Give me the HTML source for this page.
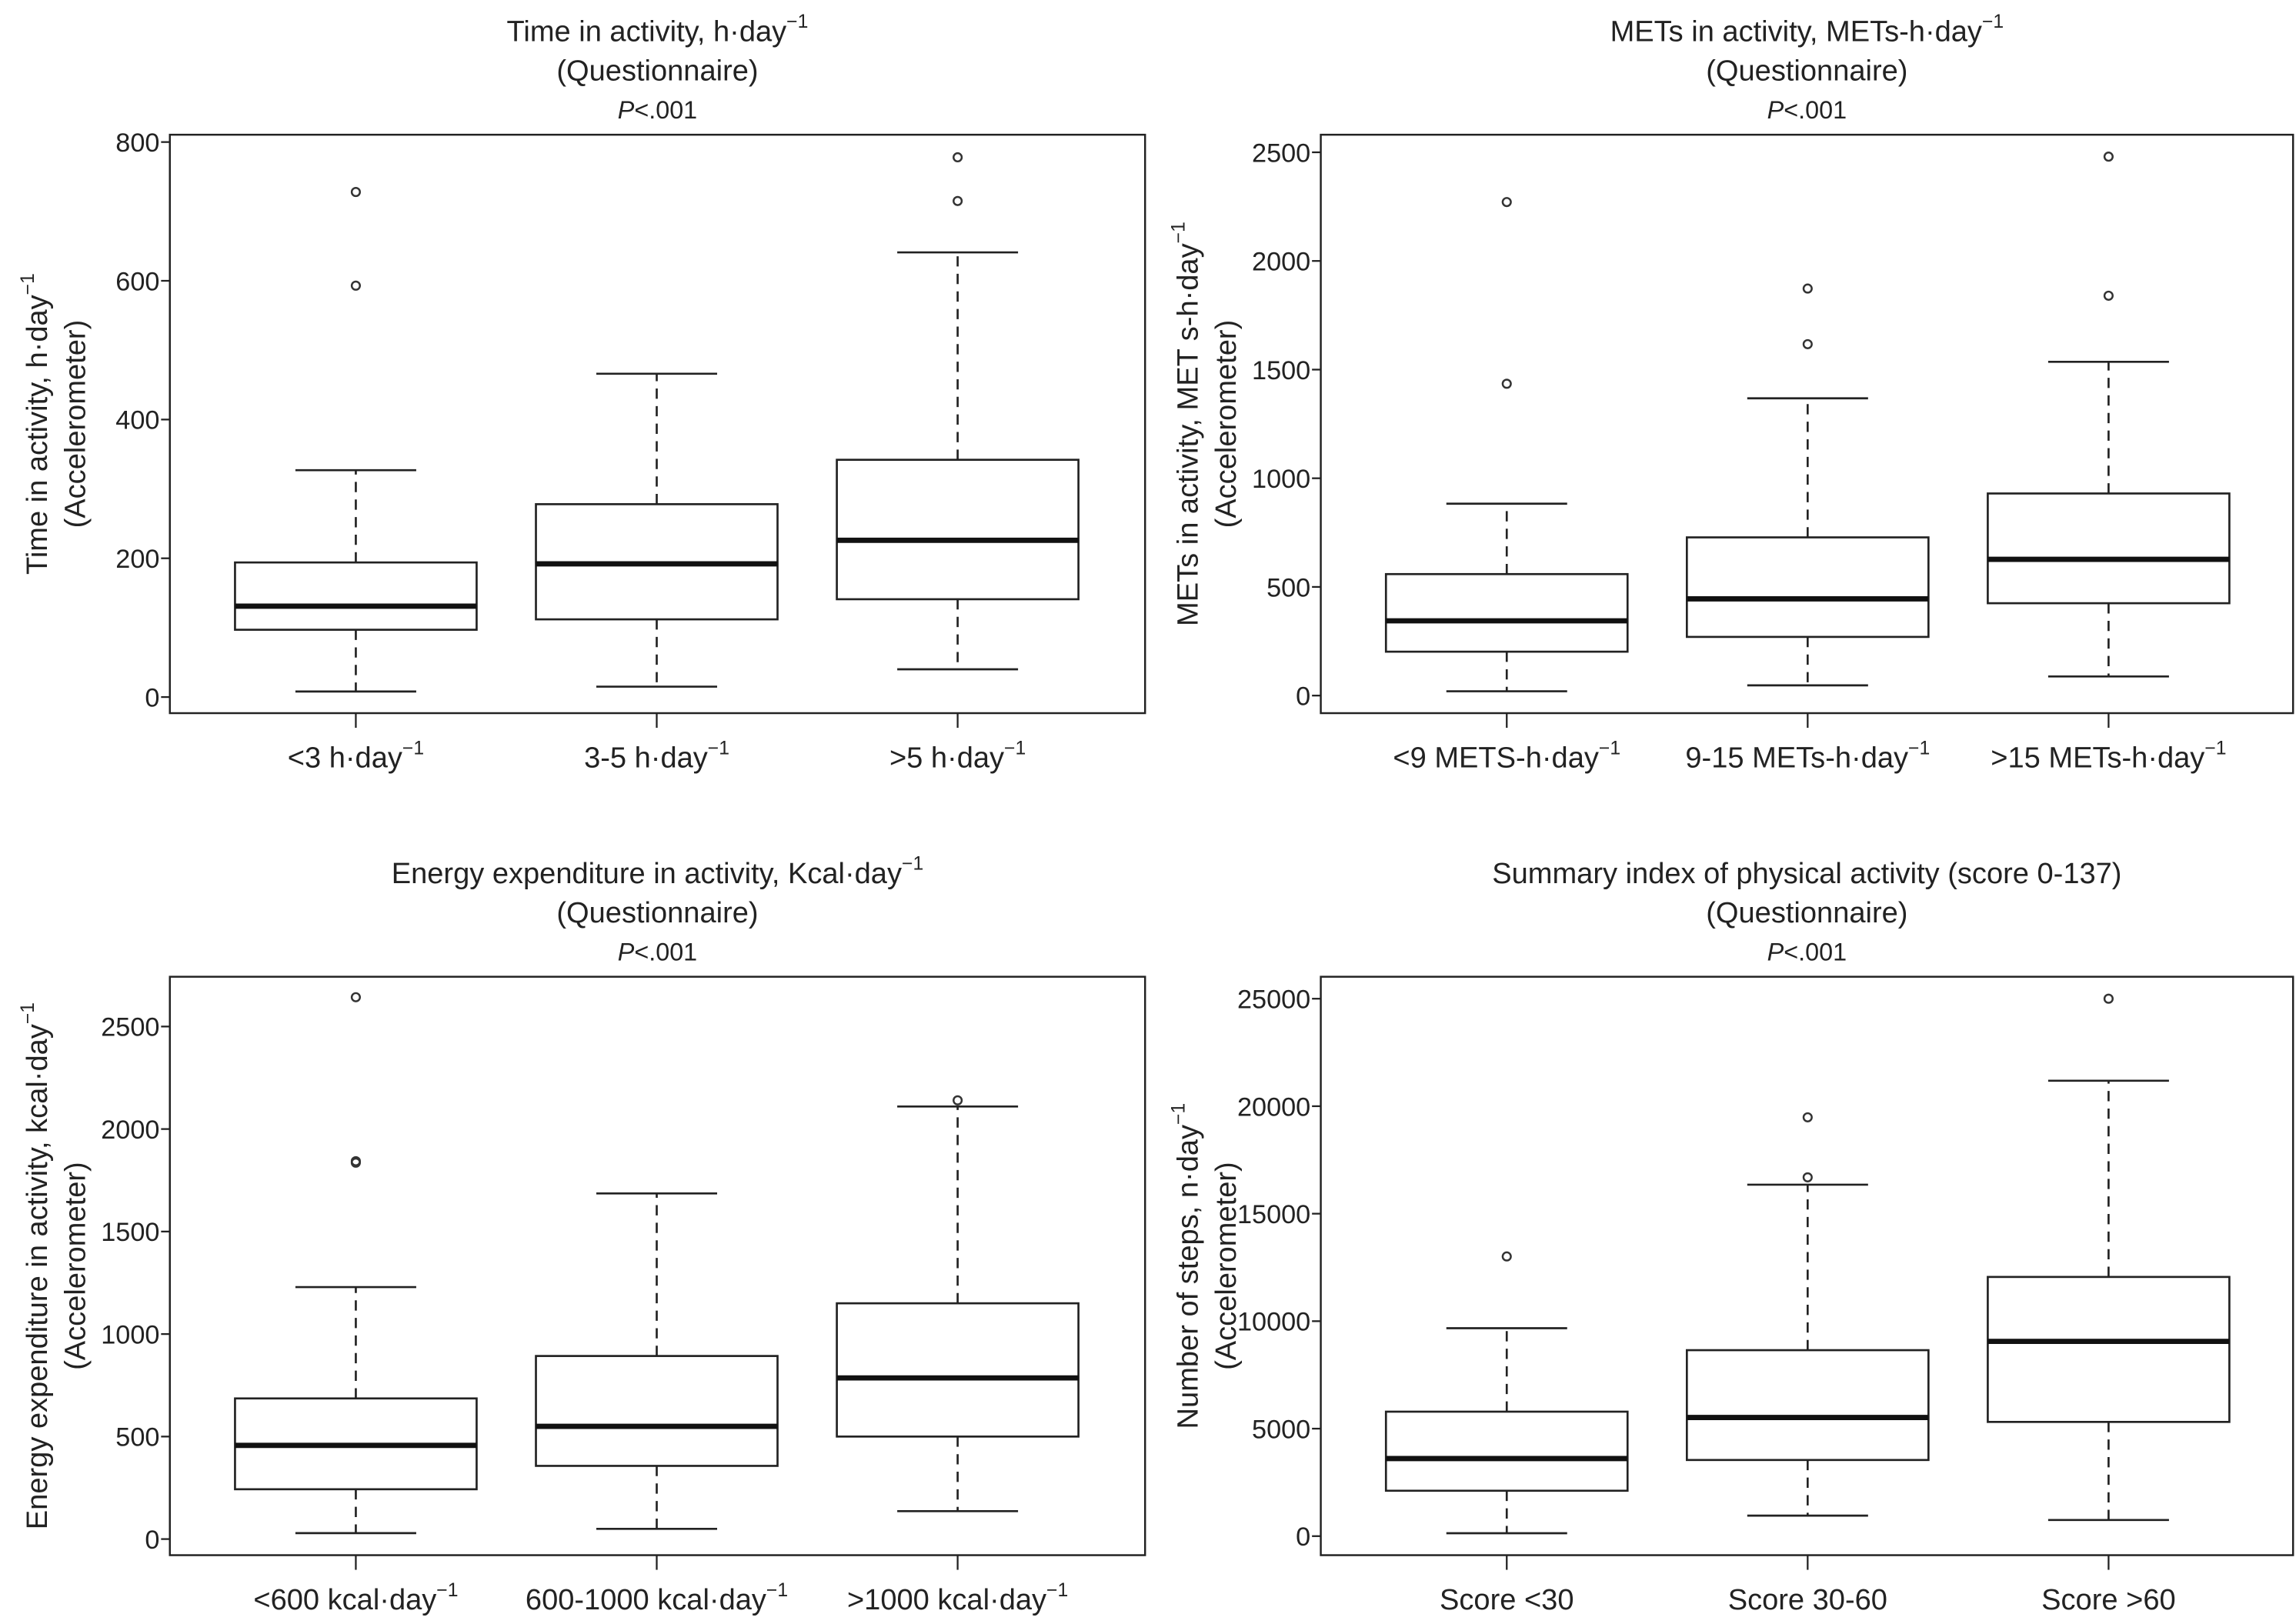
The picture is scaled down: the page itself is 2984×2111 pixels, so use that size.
<!DOCTYPE html>
<html><head><meta charset="utf-8"><style>
html,body{margin:0;padding:0;background:#fff}
svg{display:block}
text{font-family:"Liberation Sans Narrow","Liberation Sans",sans-serif;fill:#222}
.yt{font-family:"Liberation Sans",sans-serif}
</style></head><body>
<svg id="chart" width="2984" height="2111" viewBox="0 0 1568 1109" preserveAspectRatio="none" xmlns="http://www.w3.org/2000/svg"></svg>
<script>
// Panel 1: time in activity
const p1Cats = ["<3 h·day", "3-5 h·day", ">5 h·day"];
const p1Low = [8, 15, 40];
const p1Q1 = [97, 112, 141];
const p1Med = [131, 192, 226];
const p1Q3 = [194, 278, 342];
const p1High = [327, 466, 641];
const p1Out = [[728, 593], [], [715, 778]];
const p1Ticks = [0, 200, 400, 600, 800];
// Panel 2: METs
const p2Cats = ["<9 METS-h·day", "9-15 METs-h·day", ">15 METs-h·day"];
const p2Low = [20, 47, 88];
const p2Q1 = [202, 270, 425];
const p2Med = [344, 445, 627];
const p2Q3 = [559, 728, 930];
const p2High = [883, 1368, 1536];
const p2Out = [[1435, 2271], [1617, 1873], [1840, 2480]];
const p2Ticks = [0, 500, 1000, 1500, 2000, 2500];
// Panel 3: energy
const p3Cats = ["<600 kcal·day", "600-1000 kcal·day", ">1000 kcal·day"];
const p3Low = [29, 50, 136];
const p3Q1 = [243, 357, 500];
const p3Med = [457, 550, 786];
const p3Q3 = [686, 893, 1150];
const p3High = [1229, 1686, 2110];
const p3Out = [[1843, 1836, 2643], [], [2140]];
const p3Ticks = [0, 500, 1000, 1500, 2000, 2500];
// Panel 4: steps
const p4Cats = ["Score <30", "Score 30-60", "Score >60"];
const p4Low = [136, 954, 750];
const p4Q1 = [2112, 3542, 5313];
const p4Med = [3610, 5518, 9060];
const p4Q3 = [5790, 8651, 12057];
const p4High = [9673, 16349, 21185];
const p4Out = [[13011], [16690, 19482], [25000]];
const p4Ticks = [0, 5000, 10000, 15000, 20000, 25000];

const NS = "http://www.w3.org/2000/svg";
const svg = document.getElementById("chart");
function mk(tag, attrs, parent) {
  const e = document.createElementNS(NS, tag);
  for (const k in attrs) e.setAttribute(k, attrs[k]);
  (parent || svg).appendChild(e);
  return e;
}
function supText(parent, x, y, main, sup, size, cls, extra) {
  const t = mk("text", Object.assign({x: x, y: y, "font-size": size, "text-anchor": "middle"}, extra || {}), parent);
  if (cls) t.setAttribute("class", cls);
  t.appendChild(document.createTextNode(main));
  if (sup) {
    const s = mk("tspan", {dy: -size * 0.45, "font-size": size * 0.65}, t);
    s.textContent = sup;
  }
  return t;
}

function panel(cfg) {
  const g = mk("g", {});
  
  
  const {L, R, T, B, y0px, ymaxpx, ymax, tOff} = cfg;
  const ys = v => y0px - (v / ymax) * (y0px - ymaxpx);
  const xs = i => L + 127 + 205.5 * i;
  const hw = 82.5;
  const mid = (L + R) / 2;
  const t1 = supText(g, mid, 28 + tOff, cfg.title, cfg.titleSup, 20);
  
  
  const t2 = mk("text", {x: mid, y: 55 + tOff, "font-size": 20, "text-anchor": "middle"}, g);
  t2.textContent = "(Questionnaire)";
  
  
  const t3 = mk("text", {x: mid, y: 81 + tOff, "font-size": 17, "text-anchor": "middle"}, g);
  const ti = mk("tspan", {"font-style": "italic"}, t3); ti.textContent = "P";
  const tr = mk("tspan", {}, t3); tr.textContent = "<.001";
  
  
  const fr = mk("rect", {x: L, y: T, width: R - L, height: B - T, fill: "none", stroke: "#222", "stroke-width": 1.3}, g);
  
  
  cfg.ticks.forEach(v => {
    const y = ys(v);
    const tk = mk("line", {x1: L - 6, x2: L, y1: y, y2: y, stroke: "#222", "stroke-width": 1.2}, g);
    
    
    const lb = mk("text", {x: L - 7, y: y + 6.5, "font-size": 18, "text-anchor": "end"}, g);
    lb.textContent = v;
    
    
  });
  const ya = mk("g", {transform: "translate(" + (L - 84) + "," + ((T + B) / 2) + ") rotate(-90)"}, g);
  
  
  supText(ya, 0, 0, cfg.yTitle, cfg.ySup, 20, "yt");
  supText(ya, 0, 26, "(Accelerometer)", "", 20, "yt");
  cfg.cats.forEach((c, i) => {
    const x = xs(i);
    const bg = mk("g", {}, g);
    
    
    const lw = 1.4;
    mk("line", {x1: x, x2: x, y1: ys(cfg.q3[i]), y2: ys(cfg.high[i]), stroke: "#222", "stroke-width": lw, "stroke-dasharray": "7,5"}, bg);
    mk("line", {x1: x, x2: x, y1: ys(cfg.q1[i]), y2: ys(cfg.low[i]), stroke: "#222", "stroke-width": lw, "stroke-dasharray": "7,5"}, bg);
    mk("line", {x1: x - hw / 2, x2: x + hw / 2, y1: ys(cfg.high[i]), y2: ys(cfg.high[i]), stroke: "#222", "stroke-width": lw}, bg);
    mk("line", {x1: x - hw / 2, x2: x + hw / 2, y1: ys(cfg.low[i]), y2: ys(cfg.low[i]), stroke: "#222", "stroke-width": lw}, bg);
    mk("rect", {x: x - hw, y: ys(cfg.q3[i]), width: hw * 2, height: ys(cfg.q1[i]) - ys(cfg.q3[i]), fill: "#fff", stroke: "#222", "stroke-width": lw}, bg);
    mk("line", {x1: x - hw, x2: x + hw, y1: ys(cfg.med[i]), y2: ys(cfg.med[i]), stroke: "#111", "stroke-width": 3.6}, bg);
    cfg.out[i].forEach(v => {
      const o = mk("circle", {cx: x, cy: ys(v), r: 2.8, fill: "none", stroke: "#333", "stroke-width": 1.3}, bg);
      
      
    });
    const xt = mk("line", {x1: x, x2: x, y1: B, y2: B + 10, stroke: "#222", "stroke-width": 1.2}, g);
    
    
    const xl = supText(g, x, B + 37, c, cfg.xSup ? "\u22121" : "", 20);
    
    
  });
}

panel({name: "panel-time", L: 116, R: 782, T: 92, B: 487, y0px: 476, ymaxpx: 97, ymax: 800, tOff: 0,
  title: "Time in activity, h·day", titleSup: "\u22121", yTitle: "Time in activity, h·day", ySup: "\u22121", xSup: true,
  cats: p1Cats, low: p1Low, q1: p1Q1, med: p1Med, q3: p1Q3, high: p1High, out: p1Out, ticks: p1Ticks});
panel({name: "panel-mets", L: 902, R: 1566, T: 92, B: 487, y0px: 475, ymaxpx: 104, ymax: 2500, tOff: 0,
  title: "METs in activity, METs-h·day", titleSup: "\u22121", yTitle: "METs in activity, MET s-h·day", ySup: "\u22121", xSup: true,
  cats: p2Cats, low: p2Low, q1: p2Q1, med: p2Med, q3: p2Q3, high: p2High, out: p2Out, ticks: p2Ticks});
panel({name: "panel-energy", L: 116, R: 782, T: 667, B: 1062, y0px: 1051, ymaxpx: 701, ymax: 2500, tOff: 575,
  title: "Energy expenditure in activity, Kcal·day", titleSup: "\u22121", yTitle: "Energy expenditure in activity, kcal·day", ySup: "\u22121", xSup: true,
  cats: p3Cats, low: p3Low, q1: p3Q1, med: p3Med, q3: p3Q3, high: p3High, out: p3Out, ticks: p3Ticks});
panel({name: "panel-steps", L: 902, R: 1566, T: 667, B: 1062, y0px: 1049, ymaxpx: 682, ymax: 25000, tOff: 575,
  title: "Summary index of physical activity (score 0-137)", titleSup: "", yTitle: "Number of steps, n·day", ySup: "\u22121", xSup: false,
  cats: p4Cats, low: p4Low, q1: p4Q1, med: p4Med, q3: p4Q3, high: p4High, out: p4Out, ticks: p4Ticks});
</script>
</body></html>
